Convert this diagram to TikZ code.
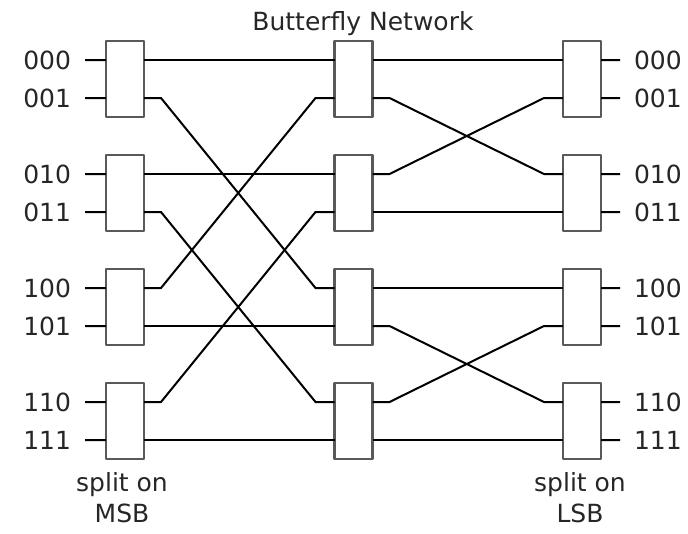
\documentclass[tikz,border=0pt]{standalone}
\usepackage{fontspec}
\setmainfont{DejaVu Sans}
\usepackage{tikz}

\begin{document}
\begin{tikzpicture}[x=1pt,y=-1pt,line width=2pt,line join=round]
    \tikzstyle{switch}=[rectangle,draw=black!65,line width=2.6pt,minimum width=38pt,minimum height=76pt,inner sep=0pt,outer sep=0pt]
    \tikzstyle{bit}=[inner xsep=13pt,inner ysep=0pt,font=\fontsize{25}{29}\selectfont,text=black!85]
    \tikzstyle{note}=[align=center,inner sep=0pt,font=\fontsize{25}{31}\selectfont,text=black!85]
    \tikzstyle{wire}=[to path={-- ++(17,0) -- ([xshift=-19pt]\tikztotarget) -- (\tikztotarget)}]
    \useasboundingbox (0,0) rectangle (688,533);

    % Switches
    \node[switch] (L1) at (125,79) {};
    \node[switch] (L2) at (125,193) {};
    \node[switch] (L3) at (125,307) {};
    \node[switch] (L4) at (125,421) {};
    \node[switch] (M1) at (353.5,79) {};
    \node[switch] (M2) at (353.5,193) {};
    \node[switch] (M3) at (353.5,307) {};
    \node[switch] (M4) at (353.5,421) {};
    \node[switch] (R1) at (582,79) {};
    \node[switch] (R2) at (582,193) {};
    \node[switch] (R3) at (582,307) {};
    \node[switch] (R4) at (582,421) {};

    % Inputs
    \node[bit,anchor=east] (in000) at (85,60) {000};
    \node[bit,anchor=east] (in001) at (85,98) {001};
    \node[bit,anchor=east] (in010) at (85,174) {010};
    \node[bit,anchor=east] (in011) at (85,212) {011};
    \node[bit,anchor=east] (in100) at (85,288) {100};
    \node[bit,anchor=east] (in101) at (85,326) {101};
    \node[bit,anchor=east] (in110) at (85,402) {110};
    \node[bit,anchor=east] (in111) at (85,440) {111};

    % Outputs
    \node[bit,anchor=west] (out000) at (620,60) {000};
    \node[bit,anchor=west] (out001) at (620,98) {001};
    \node[bit,anchor=west] (out010) at (620,174) {010};
    \node[bit,anchor=west] (out011) at (620,212) {011};
    \node[bit,anchor=west] (out100) at (620,288) {100};
    \node[bit,anchor=west] (out101) at (620,326) {101};
    \node[bit,anchor=west] (out110) at (620,402) {110};
    \node[bit,anchor=west] (out111) at (620,440) {111};

    % Captions
    \node[note] (title) at (363,24) {Butterfly Network};
    \node[note] (msb) at (122,498) {split on\\MSB};
    \node[note] (lsb) at (580,498) {split on\\LSB};

    % Stubs
    \path
        (in000) edge (L1.135)
        (in001) edge (L1.225)
        (in010) edge (L2.135)
        (in011) edge (L2.225)
        (in100) edge (L3.135)
        (in101) edge (L3.225)
        (in110) edge (L4.135)
        (in111) edge (L4.225)
        (R1.45) edge (out000)
        (R1.315) edge (out001)
        (R2.45) edge (out010)
        (R2.315) edge (out011)
        (R3.45) edge (out100)
        (R3.315) edge (out101)
        (R4.45) edge (out110)
        (R4.315) edge (out111)
        ;

    % First stage
    \path
        (L1.45) edge[wire] (M1.135)
        (L1.315) edge[wire] (M3.135)
        (L2.45) edge[wire] (M2.135)
        (L2.315) edge[wire] (M4.135)
        (L3.45) edge[wire] (M1.225)
        (L3.315) edge[wire] (M3.225)
        (L4.45) edge[wire] (M2.225)
        (L4.315) edge[wire] (M4.225)
        ;

    % Second stage
    \path
        (M1.45) edge[wire] (R1.135)
        (M1.315) edge[wire] (R2.135)
        (M2.45) edge[wire] (R1.225)
        (M2.315) edge[wire] (R2.225)
        (M3.45) edge[wire] (R3.135)
        (M3.315) edge[wire] (R4.135)
        (M4.45) edge[wire] (R3.225)
        (M4.315) edge[wire] (R4.225)
        ;
\end{tikzpicture}
\end{document}
